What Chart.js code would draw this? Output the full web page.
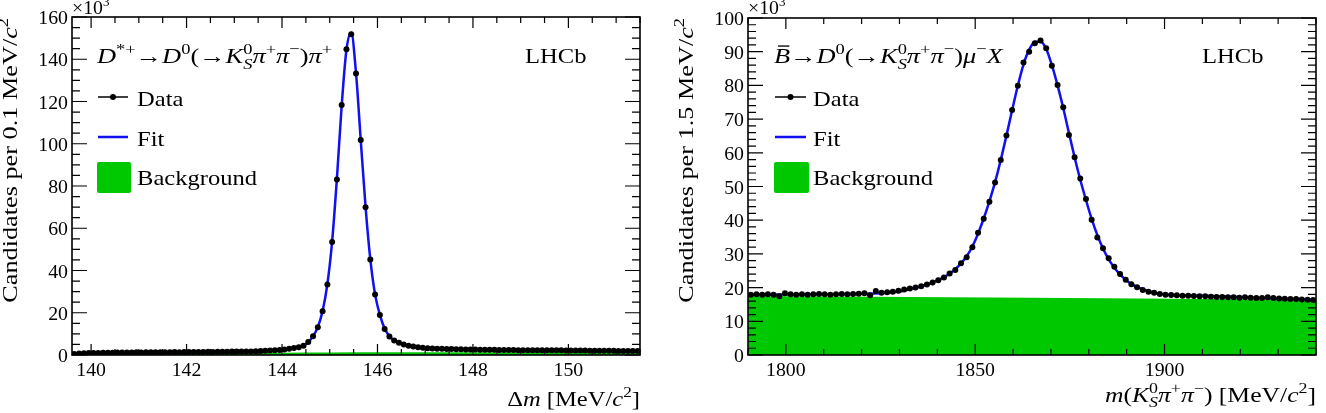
<!DOCTYPE html>
<html>
<head>
<meta charset="utf-8">
<script src="https://cdn.jsdelivr.net/npm/chart.js@4.4.0/dist/chart.umd.min.js"></script>
<style>
  html, body { margin: 0; padding: 0; background: #fff; }
  #wrap { position: relative; width: 1326px; height: 413px; }
  canvas { position: absolute; top: 0; }
</style>
</head>
<body>
<div id="wrap">
  <canvas id="left" width="663" height="413" style="left:0"></canvas>
  <canvas id="right" width="663" height="413" style="left:663px"></canvas>
</div>
<script>
// ---- left panel: delta m, 0.1 MeV bins, values in units of 10^3 ----
const DM_LO = 139.6, DM_HI = 151.5, DM_BIN = 0.1;
const dmData = [
  0.5, 0.7, 0.8, 0.9, 1.0, 1.0, 1.1, 1.1, 1.1, 1.2,
  1.2, 1.2, 1.2, 1.3, 1.2, 1.3, 1.3, 1.3, 1.3, 1.3,
  1.3, 1.4, 1.3, 1.4, 1.4, 1.4, 1.4, 1.4, 1.5, 1.4,
  1.5, 1.5, 1.5, 1.6, 1.6, 1.6, 1.7, 1.7, 1.8, 1.9,
  2.0, 2.1, 2.2, 2.4, 2.6, 2.9, 3.3, 3.7, 4.4, 6.1,
  8.9, 13.1, 20.7, 33.4, 53.5, 83.1, 118.3, 144.7, 151.8, 133.2,
  101.8, 70.0, 45.2, 28.6, 18.9, 12.3, 8.8, 6.9, 5.8, 5.0,
  4.4, 4.0, 3.7, 3.4, 3.2, 3.1, 3.0, 2.9, 2.8, 2.8,
  2.7, 2.7, 2.6, 2.6, 2.6, 2.5, 2.5, 2.5, 2.5, 2.4,
  2.4, 2.4, 2.4, 2.3, 2.3, 2.3, 2.3, 2.3, 2.2, 2.2,
  2.2, 2.2, 2.2, 2.1, 2.1, 2.1, 2.1, 2.1, 2.0, 2.0,
  2.0, 2.0, 2.0, 2.0, 1.9, 1.9, 1.9, 1.9, 1.9
];
const dmFitX = [139.6, 139.7, 139.9, 140.2, 140.6, 141.0, 141.5, 142.0, 142.5, 143.0,
  143.4, 143.7, 143.95, 144.15, 144.3, 144.45, 144.55, 144.65, 144.75, 144.85,
  144.95, 145.05, 145.15, 145.25, 145.35, 145.45, 145.55, 145.65, 145.75, 145.85,
  145.95, 146.05, 146.15, 146.25, 146.35, 146.5, 146.7, 146.9, 147.2, 147.6,
  148.0, 148.5, 149.0, 149.5, 150.0, 150.5, 151.0, 151.5];
const dmFitY = [0.3, 0.65, 0.9, 1.05, 1.15, 1.22, 1.28, 1.35, 1.42, 1.55,
  1.75, 2.0, 2.3, 2.9, 3.5, 4.5, 6.1, 8.9, 13.2, 20.8,
  33.5, 53.8, 83.5, 118.0, 144.5, 152.6, 133.5, 101.5, 70.2, 45.3,
  28.7, 19.0, 12.6, 8.9, 6.9, 5.3, 4.2, 3.55, 3.05, 2.75,
  2.6, 2.45, 2.35, 2.25, 2.15, 2.05, 1.97, 1.9];
const dmBkgX = [139.6, 140.0, 141.0, 142.0, 143.0, 144.0, 145.0, 146.0, 147.0, 148.0, 149.0, 150.0, 151.5];
const dmBkgY = [0.0, 0.45, 0.7, 0.85, 1.0, 1.1, 1.2, 1.25, 1.3, 1.35, 1.35, 1.4, 1.4];
const dmXTicks = [140, 142, 144, 146, 148, 150];
const dmYTicks = [0, 20, 40, 60, 80, 100, 120, 140, 160];

// ---- right panel: m(KS pi pi), 1.5 MeV bins ----
const M_LO = 1790, M_HI = 1940, M_BIN = 1.5;
const mData = [
  17.9, 18.0, 17.9, 18.0, 17.9, 17.4, 18.3, 18.0, 17.9, 18.0,
  17.9, 18.0, 18.1, 18.0, 17.9, 18.0, 18.1, 18.0, 18.1, 18.2,
  18.3, 17.7, 19.0, 18.5, 18.6, 18.8, 19.1, 19.4, 19.7, 20.0,
  20.4, 20.9, 21.5, 22.2, 23.0, 24.2, 25.2, 27.2, 29.0, 32.0,
  36.3, 40.4, 45.5, 51.2, 57.9, 65.1, 72.7, 79.9, 86.8, 90.0,
  92.5, 93.3, 91.0, 85.8, 80.1, 73.5, 65.3, 58.7, 52.4, 46.3,
  40.1, 34.9, 31.7, 28.7, 26.2, 24.0, 22.3, 21.0, 20.1, 19.3,
  18.8, 18.5, 18.1, 17.9, 17.8, 17.7, 17.6, 17.6, 17.5, 17.4,
  17.4, 17.3, 17.2, 17.2, 17.1, 17.1, 17.0, 17.1, 17.0, 16.9,
  16.9, 17.1, 16.9, 16.8, 16.7, 16.6, 16.6, 16.5, 16.4, 16.3
];
const mFitX = [1790, 1800, 1810, 1820, 1826, 1830.5,
  1832.75, 1834.25, 1835.75, 1837.25, 1838.75, 1840.25, 1841.75, 1843.25, 1844.75, 1846.25,
  1847.75, 1849.25, 1850.75, 1852.25, 1853.75, 1855.25, 1856.75, 1858.25, 1859.75, 1861.25,
  1862.75, 1864.25, 1865.75, 1867.25, 1868.75, 1870.25, 1871.75, 1873.25, 1874.75, 1876.25,
  1877.75, 1879.25, 1880.75, 1882.25, 1883.75, 1885.25, 1886.75, 1888.25, 1889.75, 1891.25,
  1892.75, 1894.25, 1895.75, 1897.25, 1898.75, 1900.25, 1901.75, 1910, 1920, 1930, 1940];
const mFitY = [17.9, 17.95, 18.0, 18.15, 18.4, 18.9,
  19.6, 19.95, 20.4, 20.9, 21.5, 22.2, 23.1, 24.2, 25.5, 27.2,
  29.3, 32.2, 36.0, 40.5, 45.6, 51.3, 57.9, 65.1, 72.6, 79.9,
  86.2, 90.6, 92.9, 93.0, 90.8, 86.0, 80.0, 73.3, 65.9, 58.7,
  52.0, 46.0, 40.4, 35.6, 31.6, 28.4, 25.9, 23.9, 22.3, 21.1,
  20.2, 19.5, 18.9, 18.5, 18.2, 17.95, 17.8, 17.55, 17.2, 16.8, 16.4];
const mBkgX = [1790, 1940];
const mBkgY = [17.5, 16.4];
const mXTicks = [1800, 1850, 1900];
const mYTicks = [0, 10, 20, 30, 40, 50, 60, 70, 80, 90, 100];

// ---- text helpers (ROOT-like serif with sub/superscripts) ----
const SERIF = '"Liberation Serif", "Times New Roman", serif';
const R = t => ({ t }), I = t => ({ t, it: true }), U = t => ({ t, sup: true });
const L = t => ({ t, sub: true, it: true });
const K0 = { t: '0', sup: true, keep: true };

function segFont(s, size, sc) {
  const sz = (s.sup || s.sub) ? size * sc : size;
  return (s.it ? 'italic ' : '') + sz.toFixed(1) + 'px ' + SERIF;
}

function drawRich(ctx, segs, x, y, o) {
  const size = o.size, k = o.stretch || 1.15, sc = o.script || 0.66;
  ctx.save();
  ctx.translate(x, y);
  if (o.rotate) ctx.rotate(-Math.PI / 2);
  ctx.scale(k, 1);
  const adv = segs.map(s => {
    ctx.font = segFont(s, size, sc);
    return s.keep ? 0 : ctx.measureText(s.t).width;
  });
  const w = adv.reduce((a, b) => a + b, 0);
  let cx = o.align === 'right' ? -w : o.align === 'center' ? -w / 2 : 0;
  ctx.fillStyle = '#000';
  ctx.textAlign = 'left';
  ctx.textBaseline = 'alphabetic';
  segs.forEach((s, i) => {
    ctx.font = segFont(s, size, sc);
    const dy = s.sup ? -0.42 * size : s.sub ? 0.25 * size : 0;
    ctx.fillText(s.t, cx, dy);
    if (s.bar) {
      const mw = ctx.measureText(s.t).width;
      ctx.fillRect(cx + 0.25 * mw, -0.8 * size, 0.7 * mw, 0.06 * size);
    }
    cx += adv[i];
  });
  ctx.restore();
}

// frame, inner ticks, labels and legend drawn on top of the datasets
function rootDecor(p) {
  return {
    id: 'rootDecor',
    afterDraw(chart) {
      const { ctx, chartArea: a } = chart;
      const xs = chart.scales.x, ys = chart.scales.y;
      ctx.save();
      ctx.strokeStyle = '#000';
      ctx.lineWidth = 1.2;
      ctx.beginPath();
      const nx = Math.round((p.xMax - p.xMinorStart) / p.xMinor);
      for (let i = 0; i <= nx; i++) {
        const v = p.xMinorStart + i * p.xMinor;
        const major = p.xTicks.some(t => Math.abs(t - v) < 1e-6);
        const px = xs.getPixelForValue(v);
        const len = major ? 11 : 6;
        ctx.moveTo(px, a.bottom); ctx.lineTo(px, a.bottom - len);
        ctx.moveTo(px, a.top); ctx.lineTo(px, a.top + len);
      }
      const ny = Math.round(p.yMax / p.yMinor);
      for (let i = 0; i <= ny; i++) {
        const v = i * p.yMinor;
        const major = p.yTicks.some(t => Math.abs(t - v) < 1e-6);
        const py = ys.getPixelForValue(v);
        const len = major ? 15 : 8;
        ctx.moveTo(a.left, py); ctx.lineTo(a.left + len, py);
        ctx.moveTo(a.right, py); ctx.lineTo(a.right - len, py);
      }
      ctx.stroke();
      ctx.lineWidth = 1.6;
      ctx.strokeRect(a.left, a.top, a.right - a.left, a.bottom - a.top);

      // tick labels
      p.xTicks.forEach(v => drawRich(ctx, [R(String(v))], xs.getPixelForValue(v), a.bottom + 21,
        { size: 18, align: 'center', stretch: 1.1 }));
      p.yTicks.forEach(v => drawRich(ctx, [R(String(v))], a.left - 4, ys.getPixelForValue(v) + 7,
        { size: 18, align: 'right', stretch: 1.1 }));
      drawRich(ctx, [R('×10'), U('3')], a.left, 14, { size: 18, stretch: 1.1 });

      // axis titles
      drawRich(ctx, p.yTitle, p.yTitleX, 18, { size: 21, align: 'right', rotate: true, stretch: 1.25, script: 0.7 });
      drawRich(ctx, p.xTitle, a.right, p.xTitleY, { size: 21, align: 'right', stretch: p.xTitleStretch, script: 0.7 });

      // decay label and LHCb
      drawRich(ctx, p.decay, p.lg.x0, 63, { size: 22, stretch: 1.2, script: 0.7 });
      drawRich(ctx, [R('LHCb')], p.lhcbX, 63, { size: 21, stretch: 1.17 });

      // legend
      const g = p.lg;
      ctx.strokeStyle = '#000'; ctx.lineWidth = 1.5;
      ctx.beginPath(); ctx.moveTo(g.x0 + 1, 97); ctx.lineTo(g.x1, 97); ctx.stroke();
      ctx.fillStyle = '#000';
      ctx.beginPath(); ctx.arc((g.x0 + g.x1) / 2 + 0.5, 97, 3, 0, Math.PI * 2); ctx.fill();
      ctx.strokeStyle = BLUE; ctx.lineWidth = 2.5;
      ctx.beginPath(); ctx.moveTo(g.x0 + 1, 137); ctx.lineTo(g.x1, 137); ctx.stroke();
      ctx.fillStyle = GREEN;
      ctx.beginPath(); ctx.roundRect(g.x0, 162, g.x1 - g.x0 + 3, 31, 2); ctx.fill();
      drawRich(ctx, [R('Data')], g.tx, 106, { size: 21, stretch: 1.17 });
      drawRich(ctx, [R('Fit')], g.tx, 146, { size: 21, stretch: 1.17 });
      drawRich(ctx, [R('Background')], g.tx, 185, { size: 21, stretch: 1.17 });
      ctx.restore();
    }
  };
}

const BLUE = '#1010f0';
const GREEN = '#00c800';

function makePanel(id, p) {
  const centers = p.data.map((_, i) => p.lo + p.bin * (i + 0.5));
  new Chart(document.getElementById(id), {
    type: 'line',
    data: {
      datasets: [
        {
          label: 'Data',
          data: p.data.map((v, i) => ({ x: centers[i], y: v })),
          showLine: false,
          pointRadius: 3,
          pointBackgroundColor: '#000',
          pointBorderWidth: 0,
          order: 0
        },
        {
          label: 'Fit',
          data: p.fitX.map((x, i) => ({ x, y: p.fitY[i] })),
          borderColor: BLUE,
          borderWidth: 2.5,
          pointRadius: 0,
          cubicInterpolationMode: 'monotone',
          fill: false,
          order: 1
        },
        {
          label: 'Background',
          data: p.bkgX.map((x, i) => ({ x, y: p.bkgY[i] })),
          borderWidth: 0,
          borderColor: GREEN,
          backgroundColor: GREEN,
          pointRadius: 0,
          fill: 'origin',
          cubicInterpolationMode: 'monotone',
          order: 2
        }
      ]
    },
    options: {
      responsive: false,
      animation: false,
      devicePixelRatio: 1,
      events: [],
      layout: { padding: p.pad },
      plugins: { legend: { display: false }, tooltip: { enabled: false } },
      scales: {
        x: { type: 'linear', min: p.lo, max: p.hi, display: false },
        y: { type: 'linear', min: 0, max: p.yMax, display: false }
      }
    },
    plugins: [rootDecor(p)]
  });
}

makePanel('left', {
  lo: DM_LO, hi: DM_HI, bin: DM_BIN, data: dmData,
  fitX: dmFitX, fitY: dmFitY, bkgX: dmBkgX, bkgY: dmBkgY,
  xTicks: dmXTicks, yTicks: dmYTicks, xMinorStart: 140, xMinor: 0.5, xMax: DM_HI,
  yMax: 160, yMinor: 5,
  pad: { left: 72, right: 23, top: 17, bottom: 58 },
  yTitle: [R('Candidates per 0.1 MeV/'), I('c'), U('2')], yTitleX: 17,
  xTitle: [R('Δ'), I('m'), R(' [MeV/'), I('c'), U('2'), R(']')], xTitleY: 406, xTitleStretch: 1.17,
  decay: [I('D'), U('*+'), R('→'), I('D'), U('0'), R('(→'), I('K'), K0, L('S'),
    I('π'), U('+'), I('π'), U('−'), R(')'), I('π'), U('+')],
  lhcbX: 525,
  lg: { x0: 97, x1: 128, tx: 137 }
});

makePanel('right', {
  lo: M_LO, hi: M_HI, bin: M_BIN, data: mData,
  fitX: mFitX, fitY: mFitY, bkgX: mBkgX, bkgY: mBkgY,
  xTicks: mXTicks, yTicks: mYTicks, xMinorStart: 1790, xMinor: 10, xMax: M_HI,
  yMax: 100, yMinor: 2,
  pad: { left: 85, right: 10, top: 18, bottom: 58 },
  yTitle: [R('Candidates per 1.5 MeV/'), I('c'), U('2')], yTitleX: 30,
  xTitle: [I('m'), R('('), I('K'), K0, L('S'), I('π'), U('+'), I('π'), U('−'),
    R(') [MeV/'), I('c'), U('2'), R(']')], xTitleY: 402, xTitleStretch: 1.22,
  decay: [{ t: 'B', it: true, bar: true }, R('→'), I('D'), U('0'), R('(→'), I('K'), K0, L('S'),
    I('π'), U('+'), I('π'), U('−'), R(')'), I('μ'), U('−'), I('X')],
  lhcbX: 539,
  lg: { x0: 111, x1: 143, tx: 150 }
});
</script>
</body>
</html>
